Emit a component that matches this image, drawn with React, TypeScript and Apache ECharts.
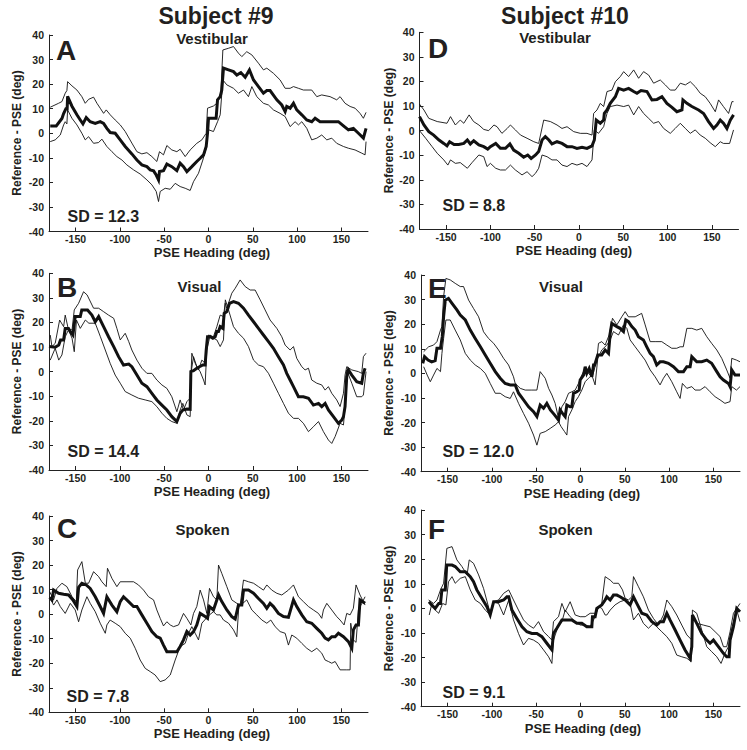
import React, { useEffect, useRef } from 'react';
import * as echarts from 'echarts';

const X_TICKS = [-150, -100, -50, 0, 50, 100, 150];
const X_MIN = -180;
const X_MAX = 180;
const Y_MIN = -40;
const Y_MAX = 40;
const Y_STEP = 10;
const SUBJECTS = ['Subject #9', 'Subject #10'];
const CONDITIONS = ['Vestibular', 'Visual', 'Spoken'];
const LETTERS = ['A', 'B', 'C', 'D', 'E', 'F'];
const SD_TEXT = ['SD = 12.3', 'SD = 14.4', 'SD = 7.8', 'SD = 8.8', 'SD = 12.0', 'SD = 9.1'];
const X_NAME = 'PSE Heading (deg)';
const Y_NAME = 'Reference - PSE (deg)';

// Panel A – Subject #9 Vestibular
const A_MEAN = [[-178.6,3],[-171.8,3],[-165.4,6],[-163.5,8],[-160.9,10],[-159.5,10],[-159,15],[-154.1,11],[-148.5,7.5],[-144.7,5.4],[-141.7,3.8],[-138,6.4],[-133.5,4.7],[-127.8,4],[-122.2,4.7],[-118.4,4],[-114.7,2],[-110.9,0.3],[-105.3,0],[-99.6,-2.7],[-94,-5.4],[-86.5,-8.4],[-80.8,-10.9],[-75.2,-12.9],[-69.5,-13.6],[-65.8,-14.9],[-62,-15.3],[-59,-17],[-56.4,-19],[-55.3,-15.6],[-50.8,-15.2],[-47,-12.5],[-41.4,-13.6],[-35.7,-15.2],[-32,-12.2],[-28.2,-13.6],[-24.4,-15.6],[-18.8,-13.6],[-13.2,-11.5],[-9.4,-10.2],[-5.6,-8.8],[-2.6,-5.4],[-1.1,0],[0,6.1],[8.6,6.1],[10.2,13.6],[13.2,14.9],[15,17.6],[16.9,26.5],[22.6,25.8],[28.2,25.1],[32,23.7],[36.5,24.7],[41.4,22.8],[46.2,25.8],[50.8,21.7],[56.4,19],[62,16.3],[65.8,17.4],[69.5,17.4],[77.1,13.6],[82.7,11.5],[86.5,8.8],[88.3,10.9],[92.1,10.2],[95.9,12.2],[99.6,9.5],[105.3,7.5],[110.9,5.4],[116.5,4.7],[120.3,6.1],[125.9,4.7],[131.6,4.7],[141,4.7],[146.6,4.7],[152.3,3],[157.9,1.4],[163.5,2],[169.2,0],[174.8,-2],[177.8,2]];
const A_UP = [[-178.6,10.6],[-169.2,12.2],[-165.4,12.9],[-161.7,16.3],[-159.8,17.4],[-159,21],[-154.1,19.3],[-148.5,17.6],[-142.9,14.9],[-139.1,12.2],[-135.3,13.8],[-129.7,14.7],[-125.9,12.2],[-122.2,10.2],[-118.4,8.1],[-115.4,9.5],[-110.9,7.5],[-105.3,5.4],[-99.6,3.4],[-94,0.7],[-86.5,-4],[-80.8,-7.5],[-75.2,-8.4],[-69.5,-7.9],[-63.9,-9.5],[-58.3,-11.5],[-55.3,-7.5],[-50.8,-8.8],[-47,-5],[-41.4,-6.8],[-35.7,-7.5],[-32,-6.5],[-26.3,-9.5],[-20.7,-6.8],[-13.2,-4.1],[-7.5,-2.7],[-2.6,0],[-1.1,10.2],[5.6,11.1],[9.4,12.2],[13.9,16.3],[16.2,33.9],[22.6,34.6],[28.2,35.3],[33.8,32.6],[37.6,31.2],[43.2,33.2],[48.9,31.9],[56.4,28.5],[62,25.8],[65.8,26.5],[73.3,24.4],[80.8,21.7],[86.5,18.3],[92.1,18.3],[95.9,19],[101.5,18.3],[107.1,17.6],[116.5,17.6],[122.2,14.9],[127.8,15.6],[137.2,14.9],[144.7,13.6],[148.5,14.9],[154.1,12.2],[159.8,10.9],[165.4,10.2],[171,8.1],[174.8,6.1],[177.8,8.5]];
const A_LO = [[-178.6,-3.4],[-173,-2.7],[-167.3,-0.7],[-163.5,3.4],[-161.7,4.7],[-159.8,3.8],[-159,9.5],[-154.1,6.1],[-148.5,3.4],[-142.9,0],[-139.1,-2.7],[-135.3,-1.4],[-129.7,-4.1],[-124.1,-3.8],[-120.3,-2.4],[-114.7,-5.4],[-109,-7.5],[-103.4,-9.5],[-97.7,-10.9],[-92.1,-12.9],[-84.6,-14.9],[-77.1,-16.6],[-69.5,-19],[-63.9,-21],[-59,-23.7],[-56.4,-27.8],[-54.5,-23.7],[-48.9,-22.4],[-43.2,-22.8],[-37.6,-20.4],[-32,-21.7],[-26.3,-22.4],[-20.7,-23.3],[-16.9,-19.7],[-11.3,-16.3],[-6.4,-10.9],[-2.6,-6.1],[-1.1,0.7],[0,1.4],[5.6,0.7],[10.2,4.7],[13.2,7.5],[16.2,21.7],[20.7,19.7],[28.2,18.3],[33.8,16.3],[39.5,17.6],[45.1,14.9],[48.9,19],[54.5,14.9],[62,12.2],[67.7,11.5],[73.3,9.5],[80.8,8.1],[86.5,6.8],[92.1,2.7],[97.7,4.7],[101.5,3.4],[105.3,4.7],[110.9,2],[116.5,-2.7],[122.2,-2],[127.8,-0.7],[133.5,-2.7],[139.1,-2],[144.7,-4.1],[152.3,-5.4],[157.9,-6.1],[165.4,-6.8],[172.9,-8.1],[176.7,-8.8],[177.8,-3.4]];

// Panel B – Subject #9 Visual
const B_MEAN = [[-180,10.2],[-173,9.9],[-169,10.8],[-167,12.9],[-163.5,12.9],[-161.7,17.6],[-158,17.6],[-156,16.3],[-153,14.9],[-150.4,22.4],[-144.7,22.4],[-143,25.1],[-136.5,25.1],[-131.6,23],[-127.8,20.3],[-124,22.4],[-118.4,18.3],[-112.8,14.2],[-107,10.2],[-101.5,6.1],[-95.9,2.7],[-90,3.1],[-86.5,2],[-80.8,-1.4],[-75.2,-4.7],[-69.5,-6.1],[-63.9,-8.8],[-58.3,-11.5],[-52.6,-13.6],[-47,-15.6],[-41.4,-18.3],[-35.7,-20.3],[-32,-16.9],[-29,-15.6],[-24.4,-15.2],[-20.7,-15.3],[-19.9,0],[-16.9,0.4],[-13.2,1.4],[-10.2,2],[-6.4,2.7],[-3.8,2.7],[-2.6,8.8],[-1.1,14.2],[1.9,14.2],[4.9,13.6],[7.5,14.2],[9.4,16.3],[11.3,16.3],[13.2,18.3],[16.2,17.6],[17.7,23.7],[20.7,24.4],[23.7,27.8],[28.2,28.5],[33.8,27.8],[39.5,25.8],[45.1,23],[50.8,20.3],[56.4,17.6],[62,14.9],[67.7,12.2],[73.3,9.5],[78.9,6.1],[84.6,2.7],[88.3,-0.7],[92.1,-3.4],[95.9,-6.1],[101.5,-10.2],[107.1,-10.2],[112.8,-10.8],[118.4,-13.6],[124.1,-12.9],[127.8,-14.2],[131.6,-12.9],[135.3,-15.6],[141,-18.3],[146.6,-21],[150.4,-19.7],[152.3,-18.3],[154.1,-14.2],[156,-2],[157.9,0.7],[161.7,-1.4],[167.3,-4.1],[172.9,-4.7],[174.8,-0.7],[176.7,1.4]];
const B_UP = [[-178.6,14.9],[-176.7,10.2],[-173,11.5],[-168,21],[-163.5,18.3],[-161.7,23],[-158,17],[-154,17],[-151.5,25.1],[-146.6,27.8],[-141,32.5],[-137,31.2],[-129.7,25.8],[-124,25.8],[-118.4,24.4],[-112.8,23],[-107,21.7],[-103.4,17.6],[-99.6,12.9],[-94,15.6],[-90,12.2],[-86.5,8.8],[-80.8,4.7],[-75.2,1.4],[-69.5,-0.7],[-63.9,-0.7],[-58.3,-3.4],[-52.6,-5.4],[-47,-6.8],[-41.4,-10.2],[-35.7,-16.3],[-32,-11.5],[-28.2,-15.6],[-24.4,-12.2],[-20.7,-10.8],[-18.8,7.5],[-15,3.4],[-11.3,0.7],[-7.5,4.7],[-3.8,3.4],[-1.9,10.2],[0,14.9],[5.6,14.2],[9.4,18.3],[13.2,23],[16.9,22.4],[18.8,27.8],[20.7,25.8],[26.3,31.9],[30.1,33.9],[35.7,37.3],[41.4,34.6],[47,33.2],[52.6,33.2],[58.3,29.2],[63.9,25.1],[69.5,21],[77.1,17.6],[82.7,14.2],[86.5,10.8],[92.1,8.8],[95.9,10.2],[99.6,5.4],[105.3,2],[109,0.7],[112.8,1.4],[116.5,-3.4],[122.2,-4.7],[127.8,-5.4],[131.6,-7.5],[135.3,-6.1],[139.1,-8.8],[144.7,-11.5],[148.5,-14.2],[152.3,-8.8],[154.1,-1.4],[156,2],[161.7,0.7],[169.2,0],[172.9,-0.7],[174.8,6.1],[177.8,7.5]];
const B_LO = [[-178.6,4.7],[-173,9.5],[-169,4.7],[-165.4,6.8],[-161.7,14.2],[-158,17],[-154,13.6],[-151.5,8.1],[-149,21],[-144.7,17.6],[-139,21],[-135,19.7],[-127.8,19.7],[-122,14.2],[-116.5,8.8],[-111,3.4],[-105.3,-1.4],[-99.6,-4.7],[-94,-8.1],[-86.5,-9.5],[-79,-10.8],[-71.4,-11.5],[-63.9,-12.2],[-58.3,-14.2],[-52.6,-16.9],[-47,-19],[-41.4,-20.3],[-35.7,-21],[-32,-15.6],[-29,-12.9],[-24.4,-17.6],[-20.7,-18.3],[-19.5,0],[-16.9,6.1],[-13.2,2],[-9.4,0],[-5.6,-3.4],[-3.8,-5.4],[-1.9,8.8],[1.9,14.9],[5.6,13.6],[9.4,12.9],[13.2,10.2],[15,11.5],[16.9,12.9],[19,29.2],[22.6,25.1],[28.2,18.3],[33.8,15.6],[39.5,13.6],[45.1,10.2],[50.8,4.7],[56.4,2.7],[62,2],[67.7,-0.7],[73.3,-4.7],[78.9,-8.8],[84.6,-12.9],[90.2,-16.9],[95.9,-19],[101.5,-19],[107.1,-21],[112.8,-24.4],[118.4,-22.4],[124.1,-20.3],[129.7,-24.4],[135.3,-27.8],[139.1,-29.2],[142.9,-26.4],[148.5,-21],[152.3,-21.7],[154.1,-14.2],[156,0.7],[161.7,-4.7],[167.3,-10.2],[172.9,-10.2],[174.8,-9.5],[177.8,0]];

// Panel C – Subject #9 Spoken
const C_MEAN = [[-179.3,6.8],[-176.7,5.8],[-174.8,9.8],[-169.2,8.5],[-163.5,8.1],[-157.9,7.8],[-153,5.8],[-148.5,3.1],[-146.6,10.9],[-142.9,12.6],[-138,11.9],[-133.5,10.5],[-127.8,7.1],[-122.2,3.1],[-118.4,0.3],[-114.7,7.1],[-109,3.7],[-103.4,1],[-99.6,5.1],[-95.9,7.1],[-90.2,5.1],[-84.6,3.1],[-80.8,3.1],[-75.2,-0.3],[-69.5,-3.7],[-63.9,-7.1],[-58.3,-9.2],[-54.5,-9.8],[-50.8,-12.6],[-47,-15.3],[-41.4,-15.3],[-35.7,-15.3],[-32,-13.2],[-28.2,-10.5],[-24.4,-7.1],[-20.7,-8.5],[-16.9,-7.1],[-13.2,-4.4],[-9.4,0.3],[-3.8,-1],[-1.1,-1.7],[1.1,3.1],[5.6,1.7],[11.3,7.8],[15,5.1],[20.7,1.7],[26.3,-1],[30.1,-2],[33.8,3.7],[37.6,3.7],[39.5,9.8],[45.1,9.8],[50.8,8.5],[56.4,6.4],[62,4.4],[65.8,2.4],[69.5,4.4],[73.3,3.1],[78.9,0.3],[84.6,-1],[90.2,-1.3],[95.9,5.8],[99.6,3.1],[105.3,-0.3],[110.9,-3.1],[116.5,-3.7],[122.2,-5.8],[127.8,-7.8],[131.6,-9.8],[135.3,-10.5],[139.1,-9.2],[142.9,-9.2],[146.6,-7.8],[152.3,-9.2],[157.9,-11.2],[161.7,-13.9],[163.5,-6.4],[166.5,-4.4],[169.2,-4.4],[171,5.8],[176.7,4.4]];
const C_UP = [[-179.3,9.2],[-174.8,5.8],[-171,10.5],[-165.4,12.6],[-159.8,11.2],[-154,7.1],[-149.2,5.1],[-147.7,18],[-142.9,21.4],[-139,12.6],[-135.3,12.6],[-129.7,17.3],[-124,15.3],[-120.3,13.2],[-115.4,11.2],[-114,18.7],[-109,14.6],[-103.4,11.2],[-99.6,13.2],[-92,13.2],[-84.6,13.2],[-79,11.9],[-73.3,9.8],[-67.7,7.1],[-62,5.8],[-58.3,1.7],[-54.5,-1.7],[-50.8,-4.8],[-47,-3.1],[-43.2,-4.4],[-39.5,-5.1],[-33.8,-4.4],[-28.2,0.3],[-24.4,-1.7],[-19.9,-4.4],[-16.9,0.3],[-13.2,3.1],[-9.4,9.8],[-5.6,5.8],[-1.9,0.3],[1.1,10.5],[5.6,7.1],[9.4,5.8],[11.3,20],[15,16.6],[20.7,11.2],[26.3,5.8],[32,4.4],[35.7,3.7],[39.5,13.9],[45.1,13.2],[50.8,12.6],[56.4,11.2],[62,9.8],[65.8,11.9],[71.4,9.8],[77.1,8.5],[82.7,7.8],[90.2,9.8],[95.9,11.9],[101.5,7.1],[107.1,5.1],[112.8,3.1],[118.4,1.7],[124.1,0.3],[127.8,-1.7],[129.7,1.7],[133.5,4.4],[139.1,1.7],[144.7,-1],[148.5,-2.4],[153,-4.4],[156,0.3],[159.8,-0.3],[163.5,2.4],[166.5,11.9],[171,7.8],[176.7,3.7]];
const C_LO = [[-179.3,7.1],[-174.8,3.7],[-171,5.8],[-167.3,3.1],[-161.7,0.3],[-156,4.4],[-150.4,1.7],[-146.6,-3.1],[-142.9,1.7],[-137.2,7.1],[-133.5,4.4],[-127.8,1],[-122.2,-3.7],[-116.5,-7.8],[-114.7,-4.4],[-111,-2.4],[-105.3,-3.7],[-99.6,-5.1],[-94,-7.8],[-88.3,-9.8],[-82.7,-13.9],[-77.1,-18.7],[-71.4,-22.1],[-65.8,-23.4],[-60.2,-24.8],[-54.5,-27.5],[-48.9,-26.8],[-43.2,-24.8],[-37.6,-18.7],[-32,-13.2],[-26.3,-11.9],[-22.6,-7.8],[-18.8,-5.1],[-15,-7.8],[-11.3,-10.5],[-7.5,-3.7],[-2.6,-1.7],[1.1,-0.3],[5.6,1],[9.4,-0.3],[13.2,-0.3],[16.9,-2.4],[22.6,-3.7],[28.2,-6.4],[32,-9.2],[34.2,3.1],[38.7,4.4],[43.2,5.8],[48.9,1.7],[54.5,-0.3],[60.2,-2.4],[65.8,-3.7],[70.3,-2.4],[75.2,-5.1],[80.8,-7.1],[86.5,-7.8],[90.2,-12.6],[94,-8.5],[99.6,-9.8],[105.3,-11.9],[110.9,-13.9],[116.5,-15.3],[122.2,-13.9],[127.8,-15.9],[131.6,-18.7],[135.3,-19.3],[139.1,-20],[142.9,-19.3],[148.5,-22.7],[156,-22.7],[159.8,-22.7],[160.5,-3.7],[163.5,-10.5],[166.5,-11.5],[169.2,1.7],[173,4.4],[176.7,7.1]];

// Panel D – Subject #10 Vestibular
const D_MEAN = [[-180,5.7],[-175,2.3],[-169.5,-0.4],[-164,-1.8],[-158,-3.8],[-152.6,-5.2],[-149,-6.2],[-146,-4.5],[-141,-5.6],[-135.7,-5.6],[-130,-5.2],[-126,-3.8],[-122.6,-5.4],[-118.8,-4.1],[-113,-5.8],[-107.5,-6.5],[-103,-7.5],[-100,-6.5],[-94,-5.2],[-88.7,-7.2],[-83,-7.2],[-78,-5.4],[-73.7,-7.9],[-68,-9.2],[-62.4,-10.8],[-57.9,-9.9],[-54,-11.3],[-49,-9.9],[-45.5,-8.5],[-41.7,-3.8],[-38,-2.4],[-34,-3.8],[-30.5,-5.4],[-24.8,-4.5],[-19.2,-5.2],[-13.5,-6.5],[-7.9,-6.5],[-2.3,-7.2],[3.4,-6.8],[9,-7.2],[14.7,-6.2],[17.3,-3.8],[19.5,4.3],[24,3],[27.8,4.3],[28.6,7],[31.6,8.4],[35.3,11.1],[41,13.8],[44.7,17.2],[50.4,16.5],[56,17.2],[61.7,15.9],[65.4,15.2],[70,16.3],[76.7,15.9],[82.3,12.5],[88,12.7],[93.6,13.8],[99.2,11.1],[104.9,9.5],[110.5,7.7],[116.2,8.4],[117.3,12.5],[121.8,11.1],[127.4,9.8],[135,8.4],[140.6,7],[146.2,3.7],[151.9,0.9],[155.6,2.3],[159.4,4.3],[163,3],[166.9,0.9],[170.7,4.3],[174.4,6.4]];
const D_UP = [[-180,10.8],[-175,8.4],[-169.5,5],[-160,3.7],[-149,3],[-145,5.7],[-139.5,2.3],[-134,4.3],[-130,3],[-124,6.4],[-119,3.7],[-113,2.3],[-107.5,0.5],[-102,0],[-96,2.3],[-92.5,1.6],[-87,-1.1],[-81,0.9],[-77.4,2.3],[-71.8,0.3],[-66,-1.8],[-58.6,-3.1],[-51,-4.5],[-45.5,-5.2],[-39.8,4.3],[-32.3,3.7],[-24.8,2.3],[-19.2,0.9],[-13.5,1.6],[-6,-0.4],[1.5,-1.1],[9,-1.1],[14.7,-1.8],[16.5,7],[20.3,8.4],[24,11.1],[27.8,9.8],[31.6,15.9],[37.2,16.5],[41,19.9],[46.6,22],[50.4,24],[56,22],[61.7,24.7],[67.3,21.3],[72.9,24],[78.6,22.6],[84.2,19.3],[91.7,20.6],[97.4,18.6],[103,16.5],[108.6,16.5],[114.3,19.3],[120,18.6],[125.6,19.9],[131.2,17.9],[136.8,15.2],[142.5,13.8],[148,11.1],[153.8,7.7],[157.5,12.5],[163,9.8],[168.8,7],[172.6,11.8],[174.4,11.8]];
const D_LO = [[-180,0],[-173,-3.1],[-165.8,-6.5],[-160,-9.2],[-152.6,-11.9],[-148,-14],[-145,-11.9],[-139.5,-13.3],[-134,-13],[-126,-15.3],[-120.7,-13],[-113,-9.9],[-107.5,-10.6],[-103.8,-14.6],[-100,-13.3],[-94,-15.3],[-88.7,-16],[-83,-16],[-77.4,-14],[-71.8,-16],[-64.3,-18],[-58.6,-16.7],[-53,-18.7],[-49.2,-17.4],[-45.5,-15.3],[-41.7,-9.9],[-36,-10.6],[-30.5,-11.9],[-24.8,-11.9],[-19.2,-14],[-13.5,-14.6],[-7.9,-13.3],[-2.3,-14],[3.4,-13.3],[9,-14.6],[14.7,-11.9],[17.3,0.3],[22,-1.1],[27.8,1.6],[31.6,7],[35.3,9.8],[42.9,10.4],[50.4,9.8],[56,10.4],[61.7,6.4],[67.3,9.8],[72.9,7],[78.6,5],[84.2,3],[89.8,3.7],[95.5,0.9],[103,-1.1],[108.6,0.9],[114.3,3],[120,0.9],[125.6,-1.1],[131.2,0.3],[136.8,-1.8],[142.5,-3.1],[148,-4.9],[153.8,-6.5],[159.4,-4.5],[163,-5.2],[170,-5.2],[174.4,0.3]];

// Panel E – Subject #10 Visual
const E_MEAN = [[-178,4.1],[-176,6.8],[-172,5.4],[-168,4.7],[-164,5.2],[-162,10.2],[-158,10.2],[-156,14.9],[-154.5,23],[-152.6,29.8],[-149,30.5],[-145,28.5],[-139.5,25.8],[-135.7,23.7],[-130,21.7],[-124.4,17.6],[-118.8,14.2],[-113,10.8],[-107.5,7.5],[-101.9,4.1],[-96.2,0.7],[-90.6,-2],[-85,-4.1],[-79.3,-4.7],[-73.7,-4.7],[-69.9,-8.1],[-64.3,-10.8],[-58.6,-13.6],[-53,-15.6],[-49.2,-17.6],[-45.5,-12.9],[-41.7,-14.2],[-38,-12.2],[-34,-14.9],[-29.3,-16.9],[-24.8,-19],[-23,-14.9],[-20.3,-16.3],[-17.3,-17.6],[-15.4,-12.9],[-11.7,-13.6],[-9.8,-13.6],[-7.9,-8.1],[-4.1,-7.5],[-1.5,-6.8],[-0.4,-2.7],[3.4,-0.7],[5.3,2.7],[7.1,0],[9.8,2],[12.8,-1.4],[14.7,3.4],[16,3.4],[19.5,7.5],[24,7.5],[27.8,9.5],[31.6,8.1],[33.5,16.3],[35.3,20.3],[41,19],[44.7,18.3],[48.5,17],[51.1,21.7],[54.1,21],[57.9,19],[61.7,17.6],[65.4,14.9],[71,13.6],[74.8,10.8],[78.6,8.1],[82.3,6.8],[86,3.4],[89.8,4.7],[93.6,4.7],[99.2,4.1],[104.9,2.7],[110.5,0.7],[116.2,0.7],[120,2.7],[123.7,2.7],[125.6,6.8],[131.2,4.7],[136.8,4.7],[142.5,5.4],[148,4.1],[153.8,0.7],[157.5,-1.4],[161.3,-2.7],[167,-4.1],[168.8,-5.4],[170.7,1.4],[174.4,-0.7],[180,-0.7]];
const E_UP = [[-177,8.8],[-171.4,10.8],[-165.8,11.5],[-162,12.9],[-158,17.6],[-156.4,19],[-154.5,31.2],[-151.9,38.6],[-147,38],[-141.4,36.6],[-135.7,35.3],[-132,35.3],[-126.3,29.8],[-120.7,26.4],[-115,23],[-109.4,16.9],[-103.8,14.2],[-98,12.2],[-92.5,9.5],[-86.8,6.1],[-81.2,3.4],[-75.6,-1.4],[-73.7,-4.1],[-68,-6.1],[-62.4,-6.8],[-54.9,-6.8],[-49.2,-6.8],[-45.5,0.7],[-39.8,-2],[-36,-6.1],[-32.3,-8.8],[-28.6,-12.2],[-24.8,-18.3],[-21,-13.6],[-17.3,-11.5],[-13.5,-8.1],[-9.8,-7.5],[-6,-6.8],[-2.3,-4.1],[1.5,-0.7],[5.3,2],[9,0],[12.8,-1.4],[14.4,0],[18.4,5.4],[20.3,12.2],[24,12.9],[27.8,11.5],[32.3,15.6],[36.1,22.4],[41,19.7],[46.6,23],[50.4,25.1],[54.1,23],[61.7,23],[69,24.4],[73,19.7],[78.6,12.9],[84.2,12.9],[91.7,12.9],[97.4,11.5],[103,10.2],[108.6,10.2],[112.4,10.8],[116,10.8],[120,18.3],[125.6,18.3],[131.2,17.6],[136.8,18.3],[142.5,14.9],[148,12.2],[153.8,9.5],[159.4,6.1],[165,1.4],[168.8,-2],[170.7,6.1],[176,5.4],[180,4.7]];
const E_LO = [[-177,2.7],[-173,-0.7],[-169.5,-3.4],[-165.8,-0.7],[-162,2],[-158,0.7],[-156.4,8.1],[-154.5,14.2],[-151.9,21.7],[-147,21.7],[-141.4,17.6],[-135.7,13.6],[-130,8.1],[-124.4,5.4],[-118.8,3.4],[-113,2],[-107.5,0],[-101.9,-4.1],[-96.2,-8.1],[-90.6,-8.1],[-85,-9.5],[-79.3,-10.2],[-75.6,-7.5],[-69.9,-12.2],[-64.3,-16.3],[-58.6,-20.3],[-53,-25.1],[-49.2,-29.2],[-45.5,-24.4],[-39.8,-23.7],[-34.2,-22.4],[-28.6,-21],[-24.8,-19.7],[-21.8,-21.7],[-18,-23.7],[-15.4,-25.1],[-13.5,-17.6],[-9.8,-14.9],[-6,-11.5],[-2.3,-9.5],[1.5,-6.8],[5.3,-3.4],[9,-2],[12.8,-0.7],[16.5,-4.7],[19.5,6.1],[24,9.5],[29.7,11.5],[33.5,13.6],[37.2,17],[42.9,15.6],[48.5,19.7],[52.3,18.3],[56,13.6],[61.7,10.8],[67.3,8.1],[72.9,5.4],[78.6,1.4],[84.2,-1.4],[89.8,-4.7],[93.6,-2],[97.4,0],[103,-3.4],[108.6,-7.5],[112.4,-10.2],[115,-4.1],[120,-6.1],[125.6,-5.4],[129.3,-6.8],[135,-6.8],[140.6,-5.4],[146.2,-7.5],[151.9,-9.5],[157.5,-10.8],[163,-12.2],[168.8,-11.5],[170.7,-5.4],[176,-6.8],[180,-5.4]];

// Panel F – Subject #10 Spoken
const F_MEAN = [[-171,2.7],[-168,1.4],[-164,0],[-160,2],[-158,2],[-156.4,7.5],[-152.6,7.5],[-151,17.6],[-145,17.6],[-141.4,17],[-135.7,14.9],[-130,14.9],[-124.4,12.9],[-120.7,10.8],[-117,7.5],[-111.3,4.1],[-105.6,0.7],[-101.9,-2.7],[-98,2.7],[-92.5,2.7],[-86.8,3.4],[-83,4.7],[-81,4.7],[-77.4,-0.7],[-71.8,-4.1],[-66,-7.5],[-60.5,-9.5],[-54.9,-10.2],[-49.2,-10.2],[-43.6,-11.5],[-38,-14.2],[-32.3,-16.9],[-30.5,-10.2],[-26.7,-8.1],[-21,-4.7],[-15.4,-4.7],[-9.8,-4.7],[-4.1,-6.1],[1.5,-6.1],[7.1,-7.5],[12.8,-7.5],[13.5,-3.4],[16.5,-3.4],[18.4,0],[24,1.4],[27.8,3.4],[29.7,4.7],[33.5,3.4],[37.2,5.4],[41,5.4],[44.7,4.7],[50.4,3.4],[56,1.4],[59.8,4.7],[63.5,2],[69.2,-2],[74.8,-2.7],[80.5,-5.4],[86,-6.8],[89.8,-5.4],[93.6,-5.4],[97.4,-2],[101,-4.7],[106.8,-8.8],[112.4,-12.9],[118,-16.9],[123.7,-20.3],[125.6,-15.6],[126.3,-2.7],[131.2,-6.1],[136.8,-10.2],[142.5,-12.9],[146.2,-14.2],[150,-12.9],[155.6,-15.6],[161.3,-18.3],[165,-19.7],[167.7,-19.7],[168.8,-12.9],[172.6,-7.5],[176.3,0],[180,-1.4]];
const F_UP = [[-171.4,3.4],[-165.8,2],[-162,3.4],[-158,7.5],[-154.5,10.2],[-150.8,24.4],[-145,25.1],[-139.5,19.7],[-133.8,17],[-128,13.6],[-125.6,19.7],[-120.7,18.3],[-115,13.6],[-109.4,8.1],[-101.9,-2],[-98,2.7],[-92.5,3.4],[-86.8,6.1],[-81,7.5],[-75.6,3.4],[-70,-0.7],[-64.3,-4.7],[-58.6,-6.8],[-53,-8.1],[-47.4,-5.4],[-41.7,-9.5],[-36,-11.5],[-32.3,-12.9],[-30.5,-5.4],[-24.8,-3.4],[-21,2],[-17.3,-1.4],[-11.7,2.7],[-6,-2.7],[-0.4,-3.4],[5.3,-3.4],[10.9,-2],[16.5,-2],[24,2],[27.8,12.9],[33.5,11.5],[37.2,10.2],[42.9,10.2],[47.4,7.5],[50.4,4.1],[54.1,3.4],[57.9,4.7],[59.8,12.9],[65.4,8.8],[71,4.7],[76.7,-0.7],[82.3,-4.1],[88,-6.8],[93.6,-2.7],[97.4,3.4],[103,0.7],[108.6,-2.7],[114.3,-6.8],[120,-10.8],[125.6,-12.9],[126.3,-3.4],[131.2,-6.1],[138.7,-6.8],[146.2,-7.5],[151.9,-9.5],[157.5,-11.5],[161.3,-15.6],[165,-15.6],[168.8,-9.5],[172.6,-2],[176.3,0],[180,2]];
const F_LO = [[-170.7,-2.7],[-167.7,2],[-164,-0.7],[-160,-2],[-155.6,2],[-151.9,1.4],[-149,10.8],[-145,12.9],[-141.4,10.2],[-135.7,12.2],[-130,12.9],[-124.4,7.5],[-118.8,3.4],[-113,2],[-107.5,-0.7],[-101.9,-2.7],[-98,2.7],[-92.5,2],[-86.8,-2.7],[-81,3.4],[-75.6,-4.7],[-70,-10.2],[-64.3,-14.9],[-58.6,-12.2],[-53,-12.9],[-47.4,-14.2],[-41.7,-16.9],[-36,-19.7],[-32.3,-22.4],[-30.5,-12.9],[-24.8,-6.8],[-21,-5.4],[-17.3,-0.7],[-11.7,-3.4],[-6,-5.4],[-0.4,-6.8],[5.3,-6.8],[10.9,-7.5],[16.5,-3.4],[20.3,0.7],[24,0],[27.8,-2.7],[29.7,-2.7],[33.5,-0.7],[39,1.4],[44.7,2.7],[50.4,3.4],[56,2],[59.8,-4.7],[65.4,-2],[71,-6.1],[76.7,-8.1],[82.3,-6.1],[86,-7.5],[91.7,-9.5],[97.4,-11.5],[103,-14.2],[108.6,-19],[114.3,-19.7],[120,-20.3],[125,-21.7],[126.3,-0.7],[131.2,-2],[136.8,-8.8],[142.5,-15.6],[148,-17.6],[153.8,-19.7],[158.6,-22.4],[163,-18.3],[166.9,-15.6],[170.7,-8.1],[176.3,-0.7],[180,-5.4]];

const PANEL_DATA = [
  [A_MEAN, A_UP, A_LO],
  [B_MEAN, B_UP, B_LO],
  [C_MEAN, C_UP, C_LO],
  [D_MEAN, D_UP, D_LO],
  [E_MEAN, E_UP, E_LO],
  [F_MEAN, F_UP, F_LO],
];

// Layout (pixel positions) for each panel, order A,B,C,D,E,F
const LAYOUT = [
  { left: 49, top: 35, width: 319, height: 196.5, letter: [56, 50.5], cond: [212, 38], sd: [67.5, 216.5], xn: [212, 252], yn: [17, 133] },
  { left: 49, top: 273.3, width: 319, height: 196.7, letter: [57, 287.5], cond: [199.5, 286.3], sd: [67.5, 451], xn: [212, 491], yn: [17, 371.5] },
  { left: 49, top: 516, width: 319, height: 196.3, letter: [57, 528], cond: [202.5, 529], sd: [66.5, 696], xn: [212, 733.5], yn: [17, 614] },
  { left: 419.5, top: 32.3, width: 319, height: 196.7, letter: [428, 48], cond: [555, 37.7], sd: [442.5, 205.5], xn: [574, 250], yn: [388.5, 130.5] },
  { left: 421, top: 275, width: 319, height: 196.7, letter: [428, 288], cond: [561, 286], sd: [442.5, 451.5], xn: [582, 493], yn: [388.5, 373] },
  { left: 421, top: 510, width: 319, height: 196.7, letter: [428, 529], cond: [565.5, 529], sd: [442.5, 692.5], xn: [583, 728], yn: [388.5, 608.5] },
];
const TITLE_POS = [[216, 15.5], [565, 15.5]];

const FONT = "'Liberation Sans', Arial, Helvetica, sans-serif";
const INK = '#231f20';

function txt(text: string, x: number, y: number, size: number, align: string, rotation = 0) {
  return {
    type: 'text',
    x,
    y,
    rotation,
    silent: true,
    style: {
      text,
      x: 0,
      y: 0,
      fill: INK,
      fontSize: size,
      lineHeight: size,
      fontWeight: 'bold',
      fontFamily: FONT,
      align,
      verticalAlign: 'middle',
      textAlign: align,
      textVerticalAlign: 'middle',
    },
  };
}

export default function App() {
  const ref = useRef<HTMLDivElement>(null);
  useEffect(() => {
    if (!ref.current) return;
    const chart = echarts.init(ref.current, undefined, { renderer: 'svg' });
    const grid: any[] = [];
    const xAxis: any[] = [];
    const yAxis: any[] = [];
    const series: any[] = [];
    const graphic: any[] = [];
    const axisLineStyle = { color: '#222', width: 1 };
    LAYOUT.forEach((L, i) => {
      grid.push({ left: L.left, top: L.top, width: L.width, height: L.height, containLabel: false });
      xAxis.push({
        type: 'value', gridIndex: i, min: X_MIN, max: X_MAX,
        axisLine: { show: true, onZero: false, lineStyle: axisLineStyle },
        axisTick: { show: true, inside: true, length: 4, customValues: X_TICKS, lineStyle: axisLineStyle },
        axisLabel: { show: true, customValues: X_TICKS, margin: 2, fontSize: 10.5, lineHeight: 11, fontWeight: 'bold', fontFamily: FONT, color: INK },
        splitLine: { show: false },
      });
      yAxis.push({
        type: 'value', gridIndex: i, min: Y_MIN, max: Y_MAX, interval: Y_STEP,
        axisLine: { show: true, onZero: false, lineStyle: axisLineStyle },
        axisTick: { show: true, inside: true, length: 4, lineStyle: axisLineStyle },
        axisLabel: { show: true, margin: 5, fontSize: 10.5, lineHeight: 11, fontWeight: 'bold', fontFamily: FONT, color: INK },
        splitLine: { show: false },
      });
      const [mean, up, lo] = PANEL_DATA[i];
      [[up, 0.9], [lo, 0.9], [mean, 3]].forEach(([d, w]: any) => {
        series.push({
          type: 'line', xAxisIndex: i, yAxisIndex: i, data: d,
          showSymbol: false, symbol: 'none', silent: true, clip: true,
          lineStyle: { color: '#111', width: w, join: 'miter' },
        });
      });
      graphic.push(txt(LETTERS[i], L.letter[0], L.letter[1], 28, 'left'));
      graphic.push(txt(CONDITIONS[i % 3], L.cond[0], L.cond[1], 15, 'center'));
      graphic.push(txt(SD_TEXT[i], L.sd[0], L.sd[1], 16, 'left'));
      graphic.push(txt(X_NAME, L.xn[0], L.xn[1], 13, 'center'));
      graphic.push(txt(Y_NAME, L.yn[0], L.yn[1], 12, 'center', Math.PI / 2));
    });
    SUBJECTS.forEach((s, j) => graphic.push(txt(s, TITLE_POS[j][0], TITLE_POS[j][1], 23, 'center')));
    chart.setOption({ animation: false, backgroundColor: '#fff', grid, xAxis, yAxis, series, graphic });
    return () => chart.dispose();
  }, []);
  return <div ref={ref} style={{ position: 'absolute', left: 0, top: 0, width: 747, height: 750 }} />;
}
